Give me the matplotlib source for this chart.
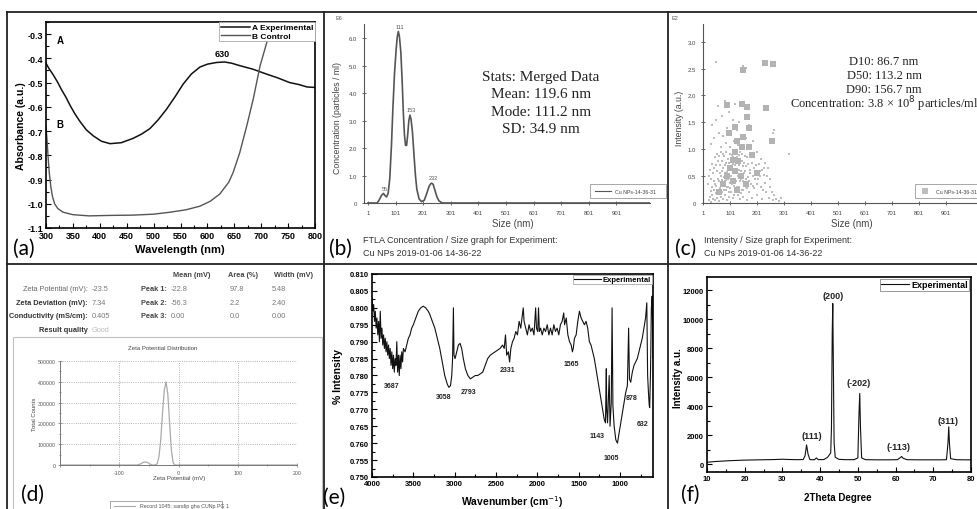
import matplotlib
matplotlib.use('Agg')
import matplotlib.pyplot as plt
import matplotlib.patches as mpatches
from matplotlib.lines import Line2D
from matplotlib.ticker import MultipleLocator

plt.rcParams['font.family'] = 'Liberation Sans'

# ---------------- data ----------------
# (a) UV-vis
a_wl_exp = [300, 305, 314, 322, 329, 337, 345, 354, 363, 375, 388, 403, 419, 440, 462, 478, 493, 508,
            524, 540, 555, 570, 586, 600, 617, 632, 645, 660, 685, 710, 730, 753, 770, 785, 800]
a_abs_exp = [-0.42, -0.44, -0.47, -0.50, -0.53, -0.56, -0.595, -0.63, -0.66, -0.695, -0.72, -0.742, -0.752,
             -0.748, -0.73, -0.712, -0.69, -0.655, -0.61, -0.558, -0.506, -0.465, -0.436, -0.424, -0.417,
             -0.415, -0.42, -0.43, -0.445, -0.465, -0.48, -0.50, -0.508, -0.518, -0.52]
a_wl_ctl = [300, 302, 304, 306, 309, 312, 316, 322, 332, 350, 380, 420, 460, 500, 530, 560, 586, 605,
            623, 640, 648, 660, 673, 685, 698, 711, 725]
a_abs_ctl = [-0.68, -0.74, -0.81, -0.87, -0.93, -0.97, -1.0, -1.02, -1.035, -1.045, -1.05, -1.048, -1.047,
             -1.043, -1.035, -1.025, -1.01, -0.99, -0.96, -0.91, -0.87, -0.79, -0.68, -0.57, -0.43, -0.33, -0.22]

# (b) NTA concentration
b_size = [1, 20, 34, 42, 50, 57, 62, 68, 74, 80, 86, 91, 97, 103, 107, 111, 115, 120, 125, 129, 133, 137,
          141, 145, 149, 153, 157, 162, 168, 173, 178, 186, 195, 205, 214, 222, 228, 232, 237, 244, 251,
          258, 270, 300, 600, 1020]
b_conc = [0, 0, 0, 0.12, 0.28, 0.35, 0.28, 0.22, 0.35, 0.9, 2.1, 3.4, 4.7, 5.6, 6.05, 6.25, 6.05, 5.5, 4.4,
          3.3, 2.5, 2.1, 2.1, 2.5, 3.0, 3.2, 3.05, 2.6, 1.7, 1.0, 0.5, 0.15, 0.05, 0.1, 0.35, 0.6, 0.7, 0.72,
          0.68, 0.45, 0.22, 0.08, 0, 0, 0, 0]
b_peaks = [55, 111, 153, 232]
b_peak_h = [0.35, 6.25, 3.2, 0.72]

# (c) NTA intensity scatter
c_size_small = [22, 25, 28, 30, 33, 35, 38, 40, 42, 45, 47, 50, 52, 55, 57, 60, 62, 64, 66, 68, 70, 72, 74,
                76, 78, 80, 82, 84, 86, 88, 90, 92, 94, 96, 98, 100, 102, 104, 106, 108, 110, 112, 114, 116,
                118, 120, 122, 124, 126, 128, 130, 132, 134, 136, 138, 140, 142, 144, 146, 148, 150, 152,
                155, 158, 160, 163, 166, 170, 174, 178, 182, 186, 190, 195, 200, 205, 210, 215, 220, 225,
                230, 235, 240, 245, 250, 258, 265, 272, 280, 288,
                20, 24, 27, 31, 34, 37, 41, 44, 46, 49, 51, 53, 56, 58, 61, 63, 65, 67, 69, 71, 73, 75, 77,
                79, 81, 83, 85, 87, 89, 91, 93, 95, 97, 99, 101, 103, 105, 107, 109, 111, 113, 115, 117, 119,
                121, 123, 125, 127, 129, 131, 133, 135, 137, 139, 141, 143, 145, 147, 149, 151, 153, 156,
                159, 162, 165, 168, 172, 176, 180, 184, 188, 192, 197, 202, 208, 212, 218, 222, 228, 238,
                248, 255,
                30, 35, 40, 48, 55, 60, 65, 70, 75, 80, 85, 90, 95, 100, 105, 110, 115, 120, 125, 130, 135,
                140, 150, 160, 170, 185, 200, 215, 230, 260, 320, 48, 150, 158, 265]
c_int_small = [0.05, 0.12, 0.22, 0.02, 0.3, 0.15, 0.08, 0.25, 0.4, 0.05, 0.18, 0.32, 0.1, 0.45, 0.22, 0.03,
               0.28, 0.55, 0.12, 0.38, 0.2, 0.6, 0.08, 0.33, 0.48, 0.15, 0.7, 0.25, 0.42, 0.05, 0.58, 0.3,
               0.82, 0.12, 0.5, 0.38, 0.65, 0.2, 0.9, 0.45, 0.1, 0.72, 0.32, 0.55, 0.98, 0.22, 0.62, 0.4,
               0.85, 0.15, 0.5, 0.7, 0.3, 0.95, 0.08, 0.45, 0.6, 0.25, 0.78, 0.4, 0.12, 0.55, 0.88, 0.3,
               0.68, 0.05, 0.48, 0.2, 0.62, 0.35, 0.1, 0.5, 0.28, 0.7, 0.15, 0.45, 0.6, 0.3, 0.08, 0.52,
               0.38, 0.2, 0.65, 0.1, 0.3, 0.05, 0.15, 0.08, 0.03, 0.1,
               0.35, 0.5, 0.62, 0.45, 0.72, 0.55, 0.65, 0.85, 0.35, 0.7, 0.92, 0.6, 0.78, 0.4, 0.88, 0.7,
               0.95, 0.5, 0.78, 0.42, 0.92, 0.65, 0.25, 0.88, 0.55, 0.4, 0.75, 0.95, 0.3, 0.68, 0.45, 0.2,
               0.75, 0.92, 0.28, 0.5, 0.78, 0.62, 0.35, 0.85, 0.55, 0.15, 0.7, 0.42, 0.8, 0.95, 0.3, 0.58,
               0.75, 0.2, 0.9, 0.62, 0.4, 0.8, 0.18, 0.92, 0.5, 0.68, 0.25, 0.75, 0.35, 0.6, 0.45, 0.85,
               0.28, 0.72, 0.4, 0.55, 0.75, 0.32, 0.65, 0.45, 0.58, 0.35, 0.72, 0.5, 0.62, 0.25, 0.65, 0.5,
               0.45, 0.2,
               1.1, 1.45, 1.2, 1.55, 1.8, 1.3, 1.05, 1.62, 1.25, 1.9, 1.12, 1.4, 1.7, 1.05, 1.3, 1.55, 1.15,
               1.85, 1.35, 1.08, 1.5, 1.25, 1.05, 1.2, 1.45, 1.15, 0.95, 0.82, 0.75, 1.3, 0.91, 2.62, 2.55,
               2.52, 1.35]
c_size_big = [149, 230, 258, 89, 143, 162, 233, 165, 118, 170, 95, 149, 254, 125, 145, 170, 120, 110, 130,
              100, 118, 90, 140, 75, 110, 60, 125, 160, 200, 180]
c_int_big = [2.47, 2.6, 2.58, 1.83, 1.84, 1.78, 1.76, 1.6, 1.42, 1.4, 1.3, 1.22, 1.16, 1.15, 1.05, 1.05,
             0.95, 0.8, 0.78, 0.65, 0.6, 0.5, 0.5, 0.35, 0.4, 0.2, 0.25, 0.35, 0.55, 0.9]

# (d) zeta potential
d_mv = [-200, -70, -64, -60, -56, -52, -48, -44, -40, -36, -33, -30, -27, -24, -21, -18, -15, -12, -9, -6, 0, 200]
d_counts = [0, 0, 5000, 12000, 15000, 12000, 4000, 0, 0, 5000, 40000, 120000, 250000, 360000, 400000,
            340000, 200000, 70000, 10000, 0, 0, 0]

# (e) FTIR
e_wn = [4000, 3990, 3980, 3970, 3960, 3950, 3940, 3930, 3920, 3910, 3900, 3890, 3880, 3870, 3860, 3850,
        3840, 3830, 3820, 3810, 3800, 3790, 3780, 3770, 3760, 3750, 3740, 3730, 3720, 3710, 3700, 3690,
        3680, 3670, 3660, 3650, 3640, 3630, 3620, 3600, 3580, 3560, 3540, 3520, 3500, 3470, 3440, 3410,
        3380, 3350, 3320, 3300, 3270, 3240, 3210, 3180, 3150, 3120, 3090, 3070, 3050, 3035, 3025, 3015,
        3008, 2995, 2975, 2955, 2935, 2915, 2895, 2870, 2840, 2810, 2780, 2750, 2720, 2690, 2660, 2630,
        2600, 2570, 2540, 2510, 2480, 2450, 2420, 2400, 2385, 2370, 2350, 2335, 2320, 2300, 2280, 2260,
        2240, 2220, 2200, 2185, 2170, 2160, 2140, 2120, 2100, 2080, 2060, 2040, 2020, 2010, 1995, 1985,
        1975, 1960, 1940, 1920, 1900, 1880, 1860, 1840, 1820, 1800, 1780, 1760, 1740, 1720, 1700, 1680,
        1670, 1650, 1630, 1610, 1590, 1575, 1565, 1550, 1530, 1510, 1490, 1470, 1450, 1430, 1410, 1390,
        1370, 1350, 1330, 1310, 1290, 1270, 1250, 1230, 1210, 1190, 1175, 1165, 1160, 1150, 1140, 1130,
        1120, 1105, 1095, 1085, 1070, 1050, 1030, 1010, 990, 970, 950, 930, 910, 895, 885, 870, 850, 830,
        810, 790, 770, 750, 730, 710, 690, 675, 665, 655, 645, 640, 630, 620, 610, 600]
e_int = [0.803, 0.799, 0.801, 0.796, 0.799, 0.794, 0.797, 0.792, 0.796, 0.790, 0.799, 0.791, 0.794, 0.789,
         0.792, 0.788, 0.791, 0.787, 0.790, 0.786, 0.789, 0.785, 0.788, 0.783, 0.787, 0.782, 0.786, 0.781,
         0.785, 0.783, 0.790, 0.781, 0.786, 0.780, 0.786, 0.782, 0.787, 0.784, 0.788, 0.787, 0.789, 0.791,
         0.792, 0.794, 0.795, 0.797, 0.799, 0.800, 0.8005, 0.800, 0.799, 0.798, 0.796, 0.794, 0.791, 0.788,
         0.784, 0.780, 0.7775, 0.7765, 0.777, 0.780, 0.785, 0.800, 0.786, 0.785, 0.787, 0.789, 0.7895,
         0.788, 0.785, 0.782, 0.780, 0.779, 0.7795, 0.780, 0.780, 0.7805, 0.781, 0.783, 0.785, 0.786,
         0.7865, 0.787, 0.7875, 0.788, 0.789, 0.788, 0.792, 0.786, 0.787, 0.784, 0.788, 0.790, 0.791,
         0.793, 0.792, 0.796, 0.794, 0.797, 0.800, 0.796, 0.794, 0.792, 0.795, 0.793, 0.794, 0.792, 0.800,
         0.794, 0.793, 0.800, 0.793, 0.794, 0.792, 0.794, 0.793, 0.795, 0.792, 0.794, 0.792, 0.795, 0.793,
         0.794, 0.792, 0.795, 0.796, 0.7985, 0.795, 0.797, 0.792, 0.790, 0.789, 0.787, 0.788, 0.791, 0.792,
         0.796, 0.799, 0.797, 0.796, 0.795, 0.796, 0.794, 0.790, 0.789, 0.787, 0.785, 0.782, 0.779, 0.776,
         0.773, 0.770, 0.767, 0.766, 0.782, 0.770, 0.766, 0.773, 0.780, 0.765, 0.772, 0.800, 0.771, 0.765,
         0.761, 0.760, 0.763, 0.766, 0.769, 0.772, 0.775, 0.777, 0.794, 0.779, 0.778, 0.781, 0.783, 0.784,
         0.785, 0.787, 0.789, 0.791, 0.794, 0.797, 0.8015, 0.780, 0.775, 0.771, 0.7705, 0.781, 0.800,
         0.8035, 0.785]
e_marks = ['3687', '3058', '2793', '2331', '1565', '1143', '1005', '878', '632']
e_mark_x = [3762, 3137, 2827, 2359, 1594, 1271, 1102, 860, 727]
e_mark_y = [0.7769, 0.7737, 0.7754, 0.7819, 0.7836, 0.7623, 0.7558, 0.7734, 0.7658]

# (f) XRD
f_2t = [10, 12, 14, 16, 18, 20, 22, 24, 26, 28, 30, 32, 34, 35.5, 36.0, 36.4, 36.8, 37.3, 38.5, 39.0, 39.5,
        41, 42.0, 42.4, 42.8, 43.0, 43.2, 43.35, 43.5, 43.7, 44.0, 45, 47, 49, 50.0, 50.3, 50.5, 50.7, 51.0,
        52, 55, 58, 60.5, 61.3, 61.6, 62.0, 63, 66, 69, 72, 73.5, 73.9, 74.1, 74.3, 74.6, 76, 78, 80]
f_int = [150, 200, 230, 260, 280, 300, 310, 320, 330, 340, 360, 340, 330, 340, 600, 1350, 700, 330, 330,
         450, 330, 340, 500, 650, 800, 2500, 9000, 11100, 7000, 1500, 500, 350, 330, 330, 450, 3500, 4900,
         2500, 450, 330, 320, 320, 330, 480, 550, 430, 330, 320, 320, 320, 330, 1500, 2600, 1400, 400, 330,
         320, 320]
f_marks = ['(111)', '(200)', '(-202)', '(-113)', '(311)']
f_mark_x = [37.8, 43.5, 50.1, 60.7, 74.0]
f_mark_y = [2000, 11650, 5650, 1250, 3000]

# ---------------- figure ----------------
W, H = 977, 510
fig = plt.figure(figsize=(W / 100, H / 100), dpi=100)


def box(l, t, r, b):
    return [l / W, 1 - b / H, (r - l) / W, (b - t) / H]


def ftext(x, y, s, **kw):
    kw.setdefault('va', 'center')
    fig.text(x / W, 1 - y / H, s, **kw)


def fline(x1, y1, x2, y2, **kw):
    fig.add_artist(Line2D([x1 / W, x2 / W], [1 - y1 / H, 1 - y2 / H], transform=fig.transFigure, **kw))


def frect(l, t, r, b, **kw):
    fig.add_artist(mpatches.Rectangle((l / W, 1 - b / H), (r - l) / W, (b - t) / H,
                                      transform=fig.transFigure, **kw))


def origin_style(ax):
    ax.tick_params(which='both', direction='in', top=False, right=False, width=0.8)
    ax.tick_params(which='major', length=3.5, pad=2)
    ax.tick_params(which='minor', length=2)
    for s in ax.spines.values():
        s.set_linewidth(1.2)


panel_font = 'Lato'

# ---- (a)
ax = fig.add_axes(box(46, 23, 315, 229))
ax.plot(a_wl_exp, a_abs_exp, color='#111111', lw=1.1, label='A Experimental')
ax.plot(a_wl_ctl, a_abs_ctl, color='#555555', lw=1.0, label='B Control')
ax.set_xlim(300, 800)
ax.set_ylim(-1.1, -0.25)
origin_style(ax)
ax.set_xticks(range(300, 801, 50), [str(v) for v in range(300, 801, 50)], fontweight='bold', fontsize=6.5)
yt = [-1.1, -1.0, -0.9, -0.8, -0.7, -0.6, -0.5, -0.4, -0.3]
ax.set_yticks(yt, ['%.1f' % v for v in yt], fontweight='bold', fontsize=6.5)
ax.xaxis.set_minor_locator(MultipleLocator(25))
ax.yaxis.set_minor_locator(MultipleLocator(0.05))
ax.text(320, -0.335, 'A', fontweight='bold', fontsize=7)
ax.text(320, -0.685, 'B', fontweight='bold', fontsize=7)
ax.text(627, -0.39, '630', fontweight='bold', fontsize=6.5, ha='center')
leg = ax.legend(loc='upper right', borderaxespad=0, fancybox=False, edgecolor='#aaaaaa', framealpha=1,
                prop={'weight': 'bold', 'size': 6}, handlelength=3.5, labelspacing=0.05, borderpad=0.2,
                handletextpad=0.2)
leg.get_frame().set_linewidth(0.6)
ftext(180, 250, 'Wavelength (nm)', ha='center', fontweight='bold', fontsize=8)
ftext(21, 126, 'Absorbance (a.u.)', ha='center', rotation=90, fontweight='bold', fontsize=7.5)
ftext(24, 249, '(a)', ha='center', fontsize=15, family=panel_font)

# ---- (b)
ax = fig.add_axes(box(364, 25, 650, 204))
ax.plot(b_size, b_conc, color='#555555', lw=1.2)
ax.set_xlim(-13.5, 1023)
ax.set_ylim(0, 6.52)
for s in ['top', 'right']:
    ax.spines[s].set_visible(False)
for s in ['left', 'bottom']:
    ax.spines[s].set_color('#555555')
    ax.spines[s].set_linewidth(0.8)
ax.tick_params(direction='inout', length=3, width=0.6, colors='#555555', labelsize=4.3, labelcolor='#444444')
xt = list(range(1, 902, 100))
ax.set_xticks(xt, [str(v) for v in xt])
ax.set_yticks(range(0, 7), ['0'] + ['%.1f' % v for v in range(1, 7)])
for xp, yp in zip(b_peaks, b_peak_h):
    ax.text(xp + 6, yp + 0.1, str(xp), fontsize=4, color='#555555', ha='center', va='bottom')
ftext(339, 18, 'E6', fontsize=4, color='#555555', ha='center')
ftext(338, 118, 'Concentration (particles / ml)', rotation=90, ha='center', fontsize=6.3, color='#444444')
ftext(513, 224, 'Size (nm)', ha='center', fontsize=7, color='#444444')
for i, s in enumerate(['Stats: Merged Data', 'Mean: 119.6 nm', 'Mode: 111.2 nm', 'SD: 34.9 nm']):
    ftext(541, 77 + i * 17.5, s, ha='center', fontsize=11, family='Liberation Serif', color='#222222')
frect(590, 185, 666, 199, facecolor='white', edgecolor='#999999', lw=0.6)
fline(595, 192, 611, 192, color='#555555', lw=0.8)
ftext(615, 192, 'Cu NPs-14-36-31', fontsize=3.8, color='#444444')
ftext(340, 249, '(b)', ha='center', fontsize=15, family=panel_font)
ftext(363, 241, 'FTLA Concentration / Size graph for Experiment:', fontsize=6.5, color='#333333')
ftext(363, 254, 'Cu NPs 2019-01-06 14-36-22', fontsize=6.5, color='#333333')

# ---- (c)
ax = fig.add_axes(box(703, 25, 977, 204))
ax.scatter(c_size_small, c_int_small, marker='s', s=3, color='#bdbdbd', linewidths=0)
ax.scatter(c_size_big, c_int_big, marker='s', s=14, color='#b3b3b3', linewidths=0)
ax.set_xlim(0, 1016)
ax.set_ylim(0, 3.33)
for s in ['top', 'right']:
    ax.spines[s].set_visible(False)
for s in ['left', 'bottom']:
    ax.spines[s].set_color('#555555')
    ax.spines[s].set_linewidth(0.8)
ax.tick_params(direction='inout', length=3, width=0.6, colors='#555555', labelsize=4.3, labelcolor='#444444')
ax.set_xticks(xt, [str(v) for v in xt])
yt = [0, 0.5, 1.0, 1.5, 2.0, 2.5, 3.0]
ax.set_yticks(yt, ['0'] + ['%.1f' % v for v in yt[1:]])
ftext(675, 18, 'E2', fontsize=4, color='#555555', ha='center')
ftext(679, 118, 'Intensity (a.u.)', rotation=90, ha='center', fontsize=6.3, color='#444444')
ftext(852, 224, 'Size (nm)', ha='center', fontsize=7, color='#444444')
for i, s in enumerate(['D10: 86.7 nm', 'D50: 113.2 nm', 'D90: 156.7 nm',
                       'Concentration: 3.8 × 10$^{8}$ particles/ml']):
    ftext(884, 62 + i * 14.2, s, ha='center', fontsize=9, family='Liberation Serif', color='#222222')
frect(915, 185, 985, 199, facecolor='white', edgecolor='#999999', lw=0.6)
ax.scatter([925], [0], alpha=0)
frect(922, 189, 928, 195, facecolor='#bdbdbd', edgecolor='none')
ftext(936, 192, 'Cu NPs-14-36-31', fontsize=3.8, color='#444444')
ftext(686, 249, '(c)', ha='center', fontsize=15, family=panel_font)
ftext(704, 241, 'Intensity / Size graph for Experiment:', fontsize=6.5, color='#333333')
ftext(704, 254, 'Cu NPs 2019-01-06 14-36-22', fontsize=6.5, color='#333333')

# ---- (d)
tfs = 5.3
ftext(192, 276, 'Mean (mV)', ha='center', fontsize=tfs, fontweight='bold', color='#444444')
ftext(243, 276, 'Area (%)', ha='center', fontsize=tfs, fontweight='bold', color='#444444')
ftext(293, 276, 'Width (mV)', ha='center', fontsize=tfs, fontweight='bold', color='#444444')
d_rows = ['Zeta Potential (mV):', 'Zeta Deviation (mV):', 'Conductivity (mS/cm):']
d_vals = ['-23.5', '7.34', '0.405']
d_peak = ['Peak 1:', 'Peak 2:', 'Peak 3:']
d_mean = ['-22.8', '-56.3', '0.00']
d_area = ['97.8', '2.2', '0.0']
d_width = ['5.48', '2.40', '0.00']
for i in range(3):
    y = 290 + i * 13.5
    ftext(88, y, d_rows[i], ha='right', fontsize=tfs, fontweight='normal' if i == 0 else 'bold',
          color='#666666' if i == 0 else '#333333')
    ftext(92, y, d_vals[i], fontsize=tfs, color='#777777')
    ftext(167, y, d_peak[i], ha='right', fontsize=tfs, fontweight='bold', color='#444444')
    ftext(171, y, d_mean[i], fontsize=tfs, color='#777777')
    ftext(230, y, d_area[i], fontsize=tfs, color='#777777')
    ftext(272, y, d_width[i], fontsize=tfs, color='#777777')
ftext(88, 330, 'Result quality', ha='right', fontsize=tfs, fontweight='bold', color='#333333')
ftext(92, 330, 'Good', fontsize=tfs, color='#bbbbbb')
frect(13, 338, 322, 514, facecolor='none', edgecolor='#c0c0c0', lw=0.8)
ftext(163, 349, 'Zeta Potential Distribution', ha='center', fontsize=4.3, color='#444444')
ax = fig.add_axes(box(60, 362, 297, 466))
ax.plot(d_mv, d_counts, color='#aaaaaa', lw=0.9)
ax.set_xlim(-200, 200)
ax.set_ylim(0, 500000)
ax.grid(True, ls=':', color='#999999', lw=0.6)
for s in ['top', 'right']:
    ax.spines[s].set_visible(False)
for s in ['left', 'bottom']:
    ax.spines[s].set_color('#777777')
    ax.spines[s].set_linewidth(0.7)
ax.set_xticks([-200, -100, 0, 100, 200], ['', '-100', '0', '100', '200'])
ax.set_yticks(range(0, 500001, 100000), [str(v) for v in range(0, 500001, 100000)])
ax.xaxis.set_minor_locator(MultipleLocator(50))
ax.yaxis.set_minor_locator(MultipleLocator(50000))
ax.tick_params(which='both', direction='inout', length=2.5, width=0.5, colors='#777777',
               labelsize=3.8, labelcolor='#555555', pad=2)
ax.tick_params(which='minor', length=1.5)
ftext(35, 414, 'Total Counts', rotation=90, ha='center', fontsize=4.3, color='#444444')
ftext(179, 479, 'Zeta Potential (mV)', ha='center', fontsize=4.3, color='#444444')
frect(110, 502, 222, 514, facecolor='white', edgecolor='#999999', lw=0.6)
fline(114, 507, 135, 507, color='#aaaaaa', lw=0.8)
ftext(140, 507, 'Record 1045: sandip gha CUNp PG 1', fontsize=3.8, color='#555555')
ftext(32, 495, '(d)', ha='center', fontsize=15, family=panel_font)

# ---- (e)
ax = fig.add_axes(box(372, 275, 653, 478))
ax.plot(e_wn, e_int, color='#111111', lw=0.8, label='Experimental')
ax.set_xlim(4000, 600)
ax.set_ylim(0.750, 0.810)
origin_style(ax)
xt = [4000, 3500, 3000, 2500, 2000, 1500, 1000]
ax.set_xticks(xt, [str(v) for v in xt], fontweight='bold', fontsize=5.5)
yt = [0.750 + 0.005 * i for i in range(13)]
ax.set_yticks(yt, ['%.3f' % v for v in yt], fontweight='bold', fontsize=5.5)
ax.xaxis.set_minor_locator(MultipleLocator(250))
ax.yaxis.set_minor_locator(MultipleLocator(0.0025))
for s, xp, yp in zip(e_marks, e_mark_x, e_mark_y):
    ax.text(xp, yp, s, fontsize=5, fontweight='bold', ha='center', va='center', color='#222222')
leg = ax.legend(loc='upper right', borderaxespad=0.1, fancybox=False, edgecolor='#aaaaaa', framealpha=1,
                prop={'weight': 'bold', 'size': 5.5}, handlelength=3.5, borderpad=0.15, handletextpad=0.3)
leg.get_frame().set_linewidth(0.6)
ftext(338, 376, '% Intensity', rotation=90, ha='center', fontweight='bold', fontsize=7.5)
ftext(512, 502, 'Wavenumber (cm$^{-1}$)', ha='center', fontweight='bold', fontsize=7.5)
ftext(334, 498, '(e)', ha='center', fontsize=15, family=panel_font)

# ---- (f)
ax = fig.add_axes(box(707, 278, 971, 473))
ax.plot(f_2t, f_int, color='#111111', lw=0.8, label='Experimental')
ax.set_xlim(10, 80)
ax.set_ylim(-520, 12930)
origin_style(ax)
ax.set_xticks(range(10, 81, 10), [str(v) for v in range(10, 81, 10)], fontweight='bold', fontsize=5.5)
ax.set_yticks(range(0, 12001, 2000), [str(v) for v in range(0, 12001, 2000)], fontweight='bold', fontsize=5.5)
ax.xaxis.set_minor_locator(MultipleLocator(5))
ax.yaxis.set_minor_locator(MultipleLocator(1000))
for s, xp, yp in zip(f_marks, f_mark_x, f_mark_y):
    ax.text(xp, yp, s, fontsize=6.5, fontweight='bold', ha='center', va='center', color='#222222')
leg = ax.legend(loc='upper right', borderaxespad=0.2, fancybox=False, edgecolor='#888888', framealpha=1,
                prop={'weight': 'bold', 'size': 6.5}, handlelength=3.0, borderpad=0.15, handletextpad=0.3)
leg.get_frame().set_linewidth(0.6)
ftext(678, 378, 'Intensity a.u.', rotation=90, ha='center', fontweight='bold', fontsize=7)
ftext(838, 498, '2Theta Degree', ha='center', fontweight='bold', fontsize=7)
ftext(690, 495, '(f)', ha='center', fontsize=15, family=panel_font)

# ---- panel borders
kw = dict(color='#222222', lw=1.3)
fline(7, 13, 977, 13, **kw)
fline(7, 13, 7, 510, **kw)
fline(7, 265, 977, 265, **kw)
fline(324, 13, 324, 510, **kw)
fline(668, 13, 668, 510, **kw)

fig.savefig('out.png', dpi=100, facecolor='white')
